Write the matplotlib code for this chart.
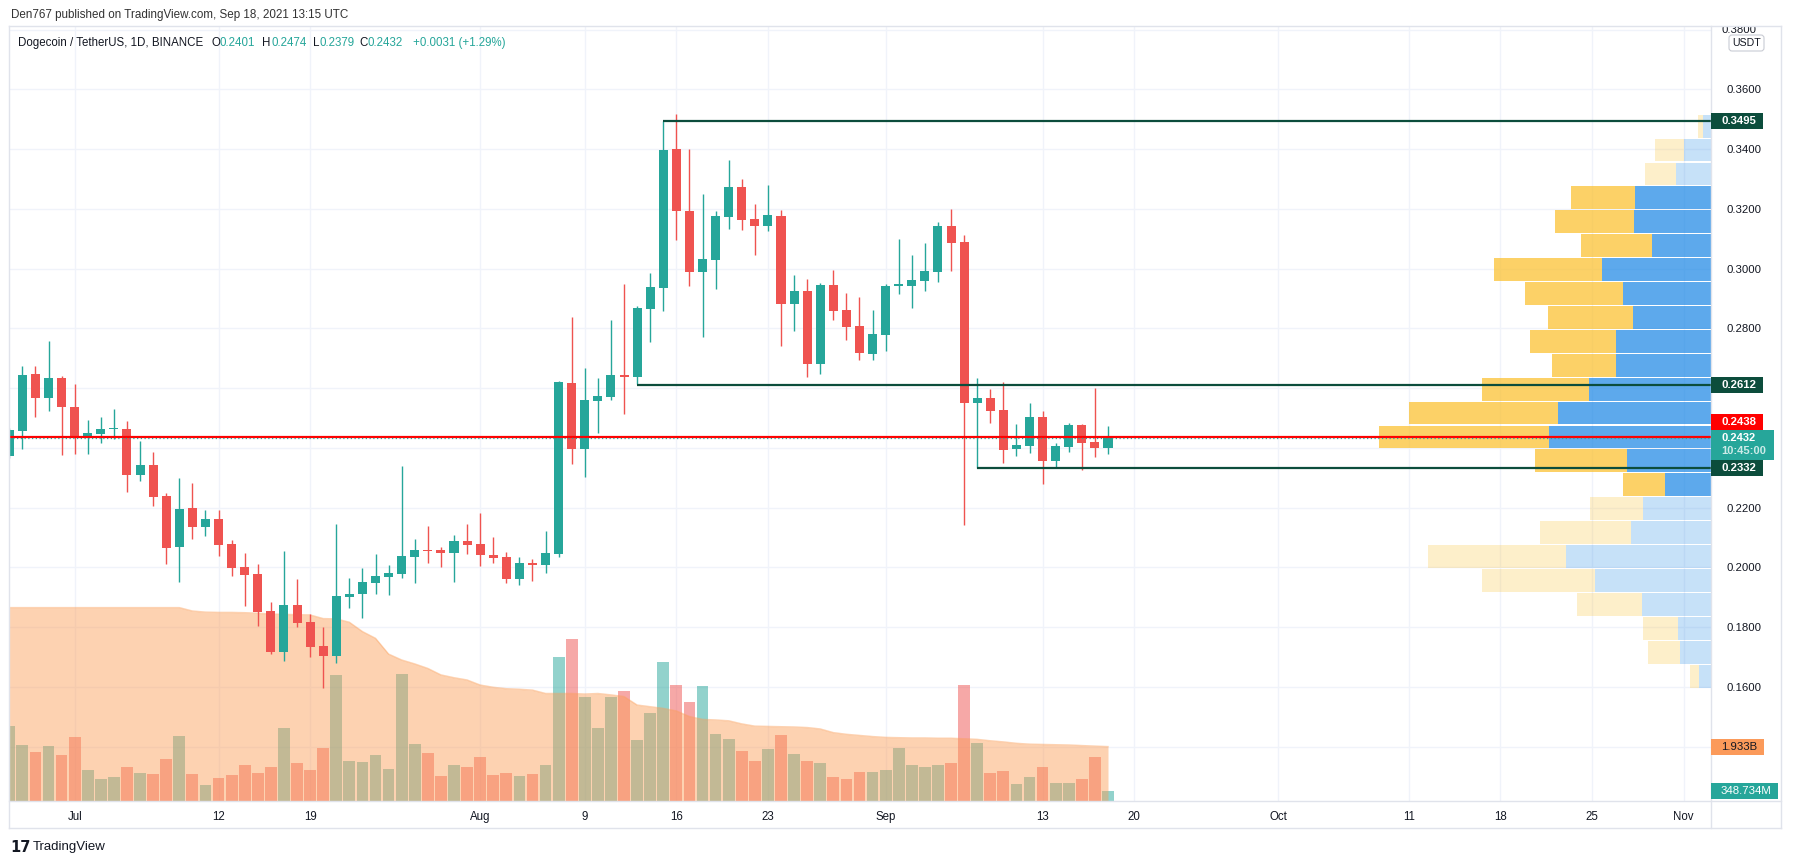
import numpy as np
import pandas as pd
import matplotlib
matplotlib.use("Agg")
import matplotlib.pyplot as plt
import matplotlib.dates as mdates
from matplotlib.patches import Rectangle, FancyBboxPatch
from matplotlib.lines import Line2D
from matplotlib.transforms import IdentityTransform, Bbox

plt.rcParams["font.family"] = ["Liberation Sans", "DejaVu Sans"]

# ---- daily DOGE/USDT candles ----
dates = pd.date_range("2021-06-26", "2021-09-18", freq="D")
opens = [0.2373, 0.2457, 0.2647, 0.2568, 0.2634, 0.2537, 0.2436, 0.2446, 0.2462, 0.2463,
         0.2309, 0.2342, 0.2238, 0.2067, 0.2198, 0.2134, 0.2161, 0.2077, 0.2000, 0.1977,
         0.1853, 0.1717, 0.1873, 0.1816, 0.1736, 0.1703, 0.1901, 0.1911, 0.1949, 0.1967,
         0.1977, 0.2034, 0.2057, 0.2057, 0.2047, 0.2087, 0.2077, 0.2040, 0.2034, 0.1960,
         0.2014, 0.2007, 0.2044, 0.2617, 0.2396, 0.2557, 0.2570, 0.2644, 0.2638, 0.2865,
         0.2935, 0.3401, 0.3193, 0.2989, 0.3029, 0.3173, 0.3273, 0.3166, 0.3143, 0.3176,
         0.2882, 0.2925, 0.2681, 0.2945, 0.2861, 0.2808, 0.2714, 0.2778, 0.2942, 0.2942,
         0.2958, 0.2989, 0.3143, 0.3089, 0.2550, 0.2567, 0.2527, 0.2396, 0.2406, 0.2503,
         0.2356, 0.2403, 0.2477, 0.2419, 0.2401]
highs = [0.2465, 0.2674, 0.2674, 0.2757, 0.2640, 0.2613, 0.2493, 0.2504, 0.2530, 0.2489,
         0.2422, 0.2386, 0.2248, 0.2299, 0.2282, 0.2191, 0.2191, 0.2091, 0.2047, 0.2010,
         0.1883, 0.2054, 0.1960, 0.1845, 0.1800, 0.2144, 0.1964, 0.1997, 0.2044, 0.2007,
         0.2338, 0.2094, 0.2138, 0.2067, 0.2108, 0.2144, 0.2181, 0.2101, 0.2051, 0.2034,
         0.2027, 0.2121, 0.2625, 0.2838, 0.2667, 0.2634, 0.2828, 0.2949, 0.2874, 0.2985,
         0.3495, 0.3517, 0.3401, 0.3250, 0.3193, 0.3364, 0.3300, 0.3216, 0.3280, 0.3196,
         0.2979, 0.2965, 0.2952, 0.2995, 0.2918, 0.2905, 0.2861, 0.2948, 0.3099, 0.3046,
         0.3086, 0.3156, 0.3200, 0.3112, 0.2634, 0.2597, 0.2620, 0.2480, 0.2550, 0.2523,
         0.2416, 0.2483, 0.2480, 0.2600, 0.2474]
lows = [0.2365, 0.2396, 0.2504, 0.2524, 0.2376, 0.2379, 0.2379, 0.2416, 0.2429, 0.2252,
        0.2288, 0.2205, 0.2010, 0.1951, 0.2094, 0.2104, 0.2037, 0.1970, 0.1870, 0.1804,
        0.1711, 0.1685, 0.1800, 0.1700, 0.1596, 0.1680, 0.1863, 0.1830, 0.1911, 0.1906,
        0.1964, 0.1948, 0.2014, 0.2000, 0.1950, 0.2044, 0.2004, 0.2014, 0.1947, 0.1940,
        0.1955, 0.1980, 0.2034, 0.2345, 0.2302, 0.2450, 0.2560, 0.2513, 0.2615, 0.2754,
        0.2858, 0.3096, 0.2942, 0.2771, 0.2932, 0.3133, 0.3129, 0.3046, 0.3126, 0.2741,
        0.2791, 0.2638, 0.2647, 0.2828, 0.2761, 0.2694, 0.2694, 0.2724, 0.2915, 0.2868,
        0.2925, 0.2955, 0.2992, 0.2142, 0.2333, 0.2483, 0.2349, 0.2373, 0.2383, 0.2279,
        0.2336, 0.2386, 0.2326, 0.2369, 0.2379]
closes = [0.2460, 0.2644, 0.2568, 0.2634, 0.2537, 0.2439, 0.2449, 0.2463, 0.2465, 0.2309,
          0.2342, 0.2235, 0.2064, 0.2195, 0.2134, 0.2161, 0.2074, 0.1997, 0.1974, 0.1851,
          0.1717, 0.1873, 0.1814, 0.1733, 0.1703, 0.1903, 0.1912, 0.1950, 0.1970, 0.1980,
          0.2037, 0.2057, 0.2055, 0.2047, 0.2087, 0.2074, 0.2040, 0.2031, 0.1960, 0.2014,
          0.2007, 0.2047, 0.2620, 0.2396, 0.2560, 0.2573, 0.2644, 0.2638, 0.2868, 0.2938,
          0.3397, 0.3193, 0.2989, 0.3033, 0.3176, 0.3273, 0.3163, 0.3143, 0.3180, 0.2882,
          0.2925, 0.2681, 0.2945, 0.2858, 0.2804, 0.2717, 0.2781, 0.2942, 0.2948, 0.2962,
          0.2992, 0.3143, 0.3086, 0.2550, 0.2567, 0.2523, 0.2393, 0.2409, 0.2503, 0.2356,
          0.2406, 0.2477, 0.2416, 0.2399, 0.2432]
# volume in billions, and its moving average
volumes = [2.66, 1.99, 1.74, 1.95, 1.63, 2.27, 1.10, 0.78, 0.85, 1.21,
           0.99, 0.96, 1.49, 2.31, 0.96, 0.57, 0.82, 0.92, 1.28, 0.99,
           1.21, 2.59, 1.35, 1.10, 1.88, 4.48, 1.42, 1.39, 1.63, 1.14,
           4.51, 2.02, 1.71, 0.89, 1.28, 1.21, 1.56, 0.92, 0.99, 0.89,
           0.96, 1.28, 5.12, 5.75, 3.69, 2.59, 3.69, 3.91, 2.17, 3.13,
           4.94, 4.12, 3.52, 4.09, 2.38, 2.20, 1.78, 1.42, 1.85, 2.34,
           1.67, 1.42, 1.35, 0.85, 0.78, 1.03, 1.03, 1.10, 1.88, 1.28,
           1.21, 1.28, 1.35, 4.12, 2.06, 0.99, 1.07, 0.60, 0.85, 1.21,
           0.64, 0.64, 0.78, 1.56, 0.348734]
vol_ma = [6.87, 6.87, 6.87, 6.87, 6.87, 6.87, 6.87, 6.87, 6.87, 6.87,
          6.87, 6.87, 6.87, 6.87, 6.75, 6.71, 6.70, 6.70, 6.69, 6.67,
          6.64, 6.63, 6.62, 6.61, 6.48, 6.47, 6.35, 6.02, 5.78, 5.22,
          5.01, 4.87, 4.71, 4.48, 4.38, 4.30, 4.12, 4.04, 3.99, 3.97,
          3.94, 3.82, 3.82, 3.82, 3.80, 3.82, 3.77, 3.71, 3.41, 3.35,
          3.29, 3.20, 3.00, 2.90, 2.88, 2.85, 2.74, 2.66, 2.65, 2.64,
          2.63, 2.61, 2.56, 2.43, 2.37, 2.33, 2.29, 2.26, 2.25, 2.24,
          2.24, 2.23, 2.23, 2.21, 2.19, 2.14, 2.10, 2.05, 2.02, 2.01,
          2.00, 1.99, 1.97, 1.95, 1.933]

# visible-range volume profile, rows bottom -> top (relative units)
prof_total = [21, 63, 68, 134, 229, 283, 171, 121, 88, 176, 332, 302, 229, 159, 181, 163,
              186, 217, 130, 156, 140, 66, 56, 13]
prof_up = [12, 31, 33, 69, 116, 145, 80, 68, 46, 84, 162, 153, 122, 95, 95, 78,
           88, 109, 59, 77, 76, 35, 27, 8]
in_value_area = [False, False, False, False, False, False, False, False, True, True, True, True,
                 True, True, True, True, True, True, True, True, True, False, False, False]

# drawn levels
level_prices = [0.3495, 0.2612, 0.2332]
level_starts = ["2021-08-15", "2021-08-13", "2021-09-08"]
red_level = 0.2438

tick_dates = ["2021-07-01", "2021-07-12", "2021-07-19", "2021-08-01", "2021-08-09", "2021-08-16",
              "2021-08-23", "2021-09-01", "2021-09-13", "2021-09-20", "2021-10-01", "2021-10-11",
              "2021-10-18", "2021-10-25", "2021-11-01"]
tick_labels = ["Jul", "12", "19", "Aug", "9", "16", "23", "Sep", "13", "20", "Oct", "11", "18", "25", "Nov"]
price_ticks = [0.14, 0.16, 0.18, 0.20, 0.22, 0.24, 0.26, 0.28, 0.30, 0.32, 0.34, 0.36, 0.38]
hidden_ticks = [0.14, 0.24, 0.26, 0.38]   # covered by the price tags in the reference

UP, DOWN = "#26a69a", "#ef5350"
LEVEL = "#0c4d3c"
TXT = "#131722"
BORDER = "#e0e3eb"

W, H = 1793, 864
fig = plt.figure(figsize=(W / 100, H / 100), dpi=100)
L, R, T, B = 9, 1711, 26, 801
rect = [L / W, 1 - B / H, (R - L) / W, (B - T) / H]

ax_bg = fig.add_axes(rect)
ax_vol = fig.add_axes(rect, sharex=ax_bg)
ax_vp = fig.add_axes(rect, sharey=ax_bg)
ax = fig.add_axes(rect, sharex=ax_bg, sharey=ax_bg)

x = mdates.date2num(dates)
o, h, l, c = map(np.array, (opens, highs, lows, closes))
up = c >= o
cols = [UP if u else DOWN for u in up]

ax_bg.set_xlim(x[0] - 0.02, x[0] + 130.1)
ax_bg.set_ylim(0.1218, 0.3812)
ax_vol.set_ylim(0, 27.53)

# background grid + axis labels
ax_bg.set_facecolor("white")
for s in ax_bg.spines.values():
    s.set_visible(False)
ax_bg.set_xticks(mdates.date2num(pd.to_datetime(tick_dates)))
ax_bg.set_xticklabels(tick_labels)
ax_bg.set_yticks(price_ticks)
ax_bg.set_yticklabels(["" if p in hidden_ticks else f"{p:.4f}" for p in price_ticks])
ax_bg.yaxis.tick_right()
ax_bg.tick_params(axis="y", length=0, pad=11, labelsize=8.2, labelcolor=TXT)
ax_bg.tick_params(axis="x", length=0, pad=7, labelsize=8.3, labelcolor=TXT)
ax_bg.grid(True, color="#f0f3fa", lw=1)

for a in (ax_vol, ax_vp, ax):
    a.set_facecolor("none")
    a.axis("off")

# volume + MA area
ax_vol.bar(x, volumes, width=0.9, color=cols, alpha=0.5, lw=0)
ax_vol.fill_between(x, 0, vol_ma, color="#fb9d56", alpha=0.46, lw=0)
ax_vol.plot(x, vol_ma, color="#fb9d56", alpha=0.45, lw=1)

# volume profile (fixed to the visible range)
edges = np.linspace(l.min(), h.max(), len(prof_total) + 1)
step = edges[1] - edges[0]
centers = edges[:-1] + step / 2
p_tot = np.array(prof_total, dtype=float)
p_up = np.array(prof_up, dtype=float)
ax_vp.set_xlim(p_tot.max() / 0.195, 0)
ups = ax_vp.barh(centers, p_up, height=step * 0.955, left=0, color="#1e88e5", lw=0)
downs = ax_vp.barh(centers, p_tot - p_up, height=step * 0.955, left=p_up, color="#fbc02d", lw=0)
for bu, bd, v in zip(ups, downs, in_value_area):
    bu.set_alpha(0.72 if v else 0.25)
    bd.set_alpha(0.72 if v else 0.25)

# candles
ax.vlines(x, l, h, colors=cols, lw=1.0)
body = np.maximum(np.abs(c - o), 0.0004)
ax.bar(x, body, bottom=np.minimum(o, c), width=0.69, color=cols, lw=0)

# levels
x_end = ax_bg.get_xlim()[1]
for p, s in zip(level_prices, level_starts):
    ax.hlines(p, mdates.date2num(pd.Timestamp(s)), x_end, color=LEVEL, lw=1.6)
ax.axhline(red_level, color="#ff0000", lw=1.6)
ax.axhline(closes[-1], color=UP, lw=0.9, ls=(0, (1, 2)))


def ypx(a, v):
    return a.transData.transform((0, v))[1]


def tag(y, text, fc, fg, w, hgt=16, bold=True, dy=0):
    fig.add_artist(Rectangle((R, y - hgt / 2 + dy), w, hgt, transform=IdentityTransform(),
                             facecolor=fc, edgecolor="none", zorder=20))
    fig.text(R + 10, y + dy, text, transform=IdentityTransform(), color=fg, fontsize=8.2,
             fontweight="bold" if bold else "normal", va="center", ha="left", zorder=21)


tag(ypx(ax, level_prices[0]), f"{level_prices[0]:.4f}", LEVEL, "white", 52)
tag(ypx(ax, level_prices[1]), f"{level_prices[1]:.4f}", LEVEL, "white", 52)
tag(ypx(ax, level_prices[2]), f"{level_prices[2]:.4f}", LEVEL, "white", 52)
tag(ypx(ax, red_level), f"{red_level:.4f}", "#ff0000", "white", 52, dy=15)
yc = ypx(ax, closes[-1])
fig.add_artist(Rectangle((R, yc - 22), 63, 30, transform=IdentityTransform(),
                         facecolor=UP, edgecolor="none", zorder=20))
fig.text(R + 10, yc + 0.5, f"{closes[-1]:.4f}", transform=IdentityTransform(), color="white",
         fontsize=8.0, fontweight="bold", va="center", zorder=21)
fig.text(R + 10, yc - 13, "10:45:00", transform=IdentityTransform(), color="#cdebe8",
         fontsize=8.0, fontweight="bold", va="center", zorder=21)
tag(ypx(ax_vol, vol_ma[-1]), f"{vol_ma[-1]:.3f}B", "#fb9a5a", TXT, 53, bold=False)
tag(ypx(ax_vol, volumes[-1]), f"{volumes[-1] * 1000:.3f}M", UP, "white", 67, bold=False)

# clipped top price label + USDT box
t38 = fig.text(R + 11, ypx(ax, 0.38), "0.3800", transform=IdentityTransform(), color=TXT,
               fontsize=8.2, va="center", zorder=5)
t38.set_clip_box(Bbox([[R, 0], [W, H - T]]))
t38.set_clip_on(True)
fig.add_artist(FancyBboxPatch((1729, H - 51), 35, 16, boxstyle="round,pad=0,rounding_size=3",
                              transform=IdentityTransform(), facecolor="white",
                              edgecolor="#c9ccd4", lw=0.8, zorder=22))
fig.text(1746.5, H - 43, "USDT", transform=IdentityTransform(), color=TXT, fontsize=7.6,
         ha="center", va="center", zorder=23)

# frame lines
for (x0, y0, x1, y1) in [(L, T, 1781, T), (L, 828, 1781, 828), (L, T, L, 828), (1781, T, 1781, 828),
                         (R, T, R, 828), (L, B, 1781, B)]:
    fig.add_artist(Line2D([x0, x1], [H - y0, H - y1], transform=IdentityTransform(),
                          color=BORDER, lw=1.0, zorder=15))

# header texts
fig.text(11, H - 15, "Den767 published on TradingView.com, Sep 18, 2021 13:15 UTC",
         transform=IdentityTransform(), color="#333333", fontsize=8.4, va="center")
legend_parts = [(18, "Dogecoin / TetherUS, 1D, BINANCE", TXT), (211, "O", TXT), (220, "0.2401", UP),
                (262, "H", TXT), (271, "0.2474", UP), (313, "L", TXT), (319, "0.2379", UP),
                (359, "C", TXT), (367, "0.2432", UP), (413, "+0.0031 (+1.29%)", UP)]
for px, s, col in legend_parts:
    fig.text(px, H - 43, s, transform=IdentityTransform(), color=col, fontsize=8.3, va="center", zorder=16)

# footer logo
fig.text(10, H - 847, "17", transform=IdentityTransform(), color=TXT, fontsize=10.5,
         fontweight="heavy", va="center", family="DejaVu Sans")
fig.text(33, H - 847, "TradingView", transform=IdentityTransform(), color=TXT, fontsize=9.5, va="center")

fig.savefig("out.png", dpi=100)
